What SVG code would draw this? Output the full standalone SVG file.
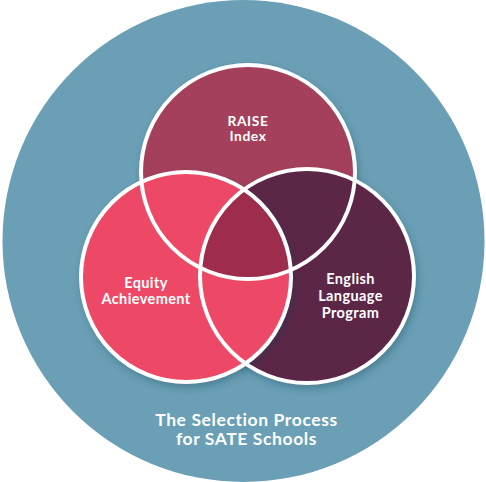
<svg xmlns="http://www.w3.org/2000/svg" width="486" height="482" viewBox="0 0 486 482">
  <style>
    .ring { fill: none; stroke: #ffffff; stroke-width: 4; }
    .label { font-family: Lato, "Open Sans", sans-serif; font-weight: bold; fill: #ffffff; text-anchor: middle; }
    .node { font-size: 14.5px; letter-spacing: 0.4px; }
    .small { font-size: 13.8px; letter-spacing: 0.6px; }
    .title { font-size: 17.5px; letter-spacing: 0.6px; }
  </style>
  <defs>
    <filter id="shadow" x="-30%" y="-30%" width="160%" height="160%">
      <feDropShadow dx="2" dy="4" stdDeviation="5" flood-color="#1e3f55" flood-opacity="0.45"/>
    </filter>
    <clipPath id="clipLeft"><circle cx="186" cy="277" r="105"/></clipPath>
    <clipPath id="clipRight"><circle cx="307" cy="276" r="107"/></clipPath>
  </defs>

  <circle id="background" cx="243.5" cy="241" r="241" fill="#6a9fb5"/>

  <g id="fills">
    <g id="node-raise-fill"><circle cx="248" cy="172" r="107" fill="#a5405c" filter="url(#shadow)"/></g>
    <g id="node-english-fill"><circle cx="307" cy="276" r="107" fill="#5c2646" filter="url(#shadow)"/></g>
    <g id="node-equity-fill"><circle cx="186" cy="277" r="105" fill="#ed4866" filter="url(#shadow)"/></g>
    <g id="center" clip-path="url(#clipRight)">
      <circle cx="248" cy="172" r="107" fill="#9d2c4d" clip-path="url(#clipLeft)"/>
    </g>
  </g>

  <g id="rings">
    <circle class="ring" cx="248" cy="172" r="107"/>
    <circle class="ring" cx="307" cy="276" r="107"/>
    <circle class="ring" cx="186" cy="277" r="105"/>
  </g>

  <g id="node-raise">
    <text class="label small" x="248" y="125.5">RAISE</text>
    <text class="label small" x="248" y="141">Index</text>
  </g>
  <g id="node-equity">
    <text class="label node" x="146" y="287.5">Equity</text>
    <text class="label node" x="146" y="304">Achievement</text>
  </g>
  <g id="node-english">
    <text class="label node" x="350.5" y="283.5">English</text>
    <text class="label node" x="350.5" y="300.5">Language</text>
    <text class="label node" x="350.5" y="317.5">Program</text>
  </g>
  <g id="title">
    <text class="label title" x="246.5" y="425.5">The Selection Process</text>
    <text class="label title" x="246.5" y="445">for SATE Schools</text>
  </g>
</svg>
